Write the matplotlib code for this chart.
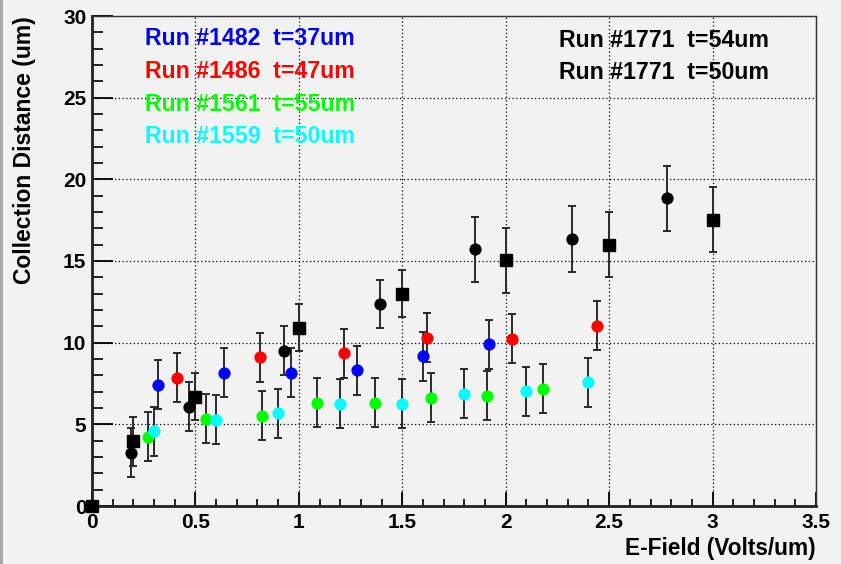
import matplotlib
matplotlib.use("Agg")
import matplotlib.pyplot as plt
from matplotlib.patches import Rectangle

plt.rcParams['font.family'] = ['Liberation Sans', 'DejaVu Sans']
plt.rcParams['font.weight'] = 'bold'

# Run #1771, t=54um (black circles)
x_1771a = [0.19, 0.47, 0.93, 1.39, 1.85, 2.32, 2.78]
y_1771a = [3.25, 6.08, 9.51, 12.37, 15.72, 16.35, 18.84]
e_1771a = [1.5, 1.5, 1.5, 1.45, 2.0, 2.0, 2.0]

# Run #1771, t=50um (black squares)
x_1771b = [0.0, 0.2, 0.5, 1.0, 1.5, 2.0, 2.5, 3.0]
y_1771b = [0.0, 3.96, 6.69, 10.92, 13.0, 15.04, 16.0, 17.53]
e_1771b = [0.0, 1.5, 1.45, 1.45, 1.45, 2.0, 2.0, 2.0]

# Run #1482, t=37um (blue)
x_1482 = [0.32, 0.64, 0.96, 1.28, 1.60, 1.92]
y_1482 = [7.43, 8.16, 8.16, 8.31, 9.18, 9.90]
e_1482 = [1.5, 1.5, 1.5, 1.5, 1.5, 1.5]

# Run #1486, t=47um (red)
x_1486 = [0.41, 0.81, 1.22, 1.62, 2.03, 2.44]
y_1486 = [7.86, 9.11, 9.35, 10.31, 10.23, 11.04]
e_1486 = [1.5, 1.5, 1.5, 1.5, 1.5, 1.5]

# Run #1561, t=55um (green)
x_1561 = [0.27, 0.55, 0.82, 1.09, 1.37, 1.64, 1.91, 2.18]
y_1561 = [4.23, 5.35, 5.53, 6.33, 6.33, 6.63, 6.74, 7.19]
e_1561 = [1.5, 1.5, 1.5, 1.5, 1.5, 1.5, 1.5, 1.5]

# Run #1559, t=50um (cyan)
x_1559 = [0.30, 0.60, 0.90, 1.20, 1.50, 1.80, 2.10, 2.40]
y_1559 = [4.57, 5.27, 5.69, 6.25, 6.25, 6.88, 7.02, 7.59]
e_1559 = [1.5, 1.5, 1.5, 1.5, 1.5, 1.5, 1.5, 1.5]

legend_left = ["Run #1482  t=37um", "Run #1486  t=47um",
               "Run #1561  t=55um", "Run #1559  t=50um"]
legend_left_colors = ["#0000ff", "#ff0000", "#00ff00", "#00ffff"]
legend_right = ["Run #1771  t=54um", "Run #1771  t=50um"]

bg = "#f2f2f2"
fig = plt.figure(figsize=(8.41, 5.64), dpi=100, facecolor=bg)
ax = fig.add_axes([92 / 841, 58 / 564, 724 / 841, 490 / 564])
ax.set_facecolor(bg)
# grey canvas border on the left edge
fig.add_artist(Rectangle((0, 0), 3 / 841, 1, transform=fig.transFigure,
                         color="#a8a8a8", lw=0))

series = [
    (x_1482, y_1482, e_1482, "#0000ff", "o"),
    (x_1486, y_1486, e_1486, "#ff0000", "o"),
    (x_1561, y_1561, e_1561, "#00ff00", "o"),
    (x_1559, y_1559, e_1559, "#00ffff", "o"),
    (x_1771a, y_1771a, e_1771a, "#000000", "o"),
    (x_1771b, y_1771b, e_1771b, "#000000", "s"),
]
for xs, ys, es, col, mk in series:
    ax.errorbar(xs, ys, yerr=es, fmt=mk, color=col, ms=7.8 if mk == "o" else 8,
                mec=col, ecolor="#2a2a2a", elinewidth=1.4, capsize=2.6,
                capthick=1.4, clip_on=False, zorder=3)

ax.set_xlim(0, 3.5)
ax.set_ylim(0, 30)
ax.set_xticks([0, 0.5, 1, 1.5, 2, 2.5, 3, 3.5])
ax.set_xticklabels(["0", "0.5", "1", "1.5", "2", "2.5", "3", "3.5"])
ax.set_xticks([i / 10 for i in range(36)], minor=True)
ax.set_yticks([0, 5, 10, 15, 20, 25, 30])
ax.set_yticks(list(range(31)), minor=True)
ax.grid(True, which="major", color="black", linestyle=(0, (1, 2)), lw=0.9)

ax.tick_params(axis="x", which="major", direction="in", length=10, width=1.3,
               labelsize=15, pad=5, top=False)
ax.tick_params(axis="x", which="minor", direction="in", length=5, width=1.2, top=False)
ax.tick_params(axis="y", which="major", direction="in", length=15, width=1.3,
               labelsize=15, pad=4, right=False)
ax.tick_params(axis="y", which="minor", direction="in", length=8, width=1.2, right=False)
for lbl in ax.get_xticklabels() + ax.get_yticklabels():
    lbl.set_fontweight("bold")

for side in ["left", "bottom"]:
    ax.spines[side].set_linewidth(2)
    ax.spines[side].set_color("#222222")
for side in ["top", "right"]:
    ax.spines[side].set_linewidth(1)
    ax.spines[side].set_color("#333333")

ax.set_xlabel("E-Field (Volts/um)", fontsize=16.3, fontweight="bold", loc="right")
ax.set_ylabel("Collection Distance (um)", fontsize=16.5, fontweight="bold", loc="top")
ax.xaxis.set_label_coords(1.0, -0.063)
ax.yaxis.set_label_coords(-0.077, 1.0)

for i, (txt, col) in enumerate(zip(legend_left, legend_left_colors)):
    ax.text(0.257, 28.6 - 2.0 * i, txt, color=col, fontsize=16.7,
            fontweight="bold", va="center", ha="left")
for i, txt in enumerate(legend_right):
    ax.text(2.256, 28.5 - 1.95 * i, txt, color="black", fontsize=16.7,
            fontweight="bold", va="center", ha="left")

fig.savefig("out.png", dpi=100, facecolor=bg)
plt.close()
